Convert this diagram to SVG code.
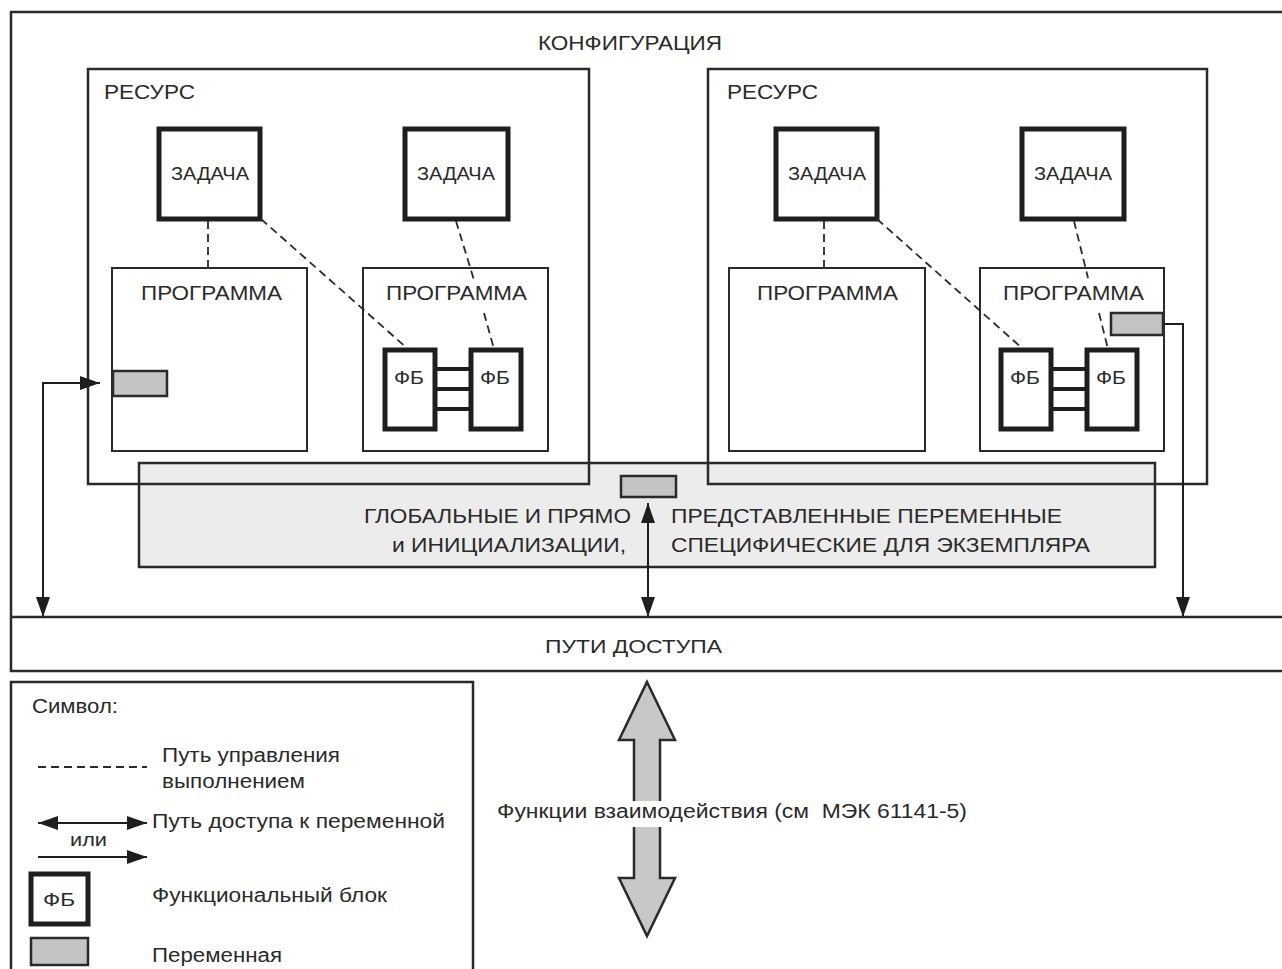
<svg xmlns="http://www.w3.org/2000/svg" width="1282" height="969" viewBox="0 0 1282 969">
  <style>
    text { font-family: "Liberation Sans", Arial, sans-serif; fill: #2a2a2a; }
    .frame { fill: none; stroke: #2a2a2a; stroke-width: 2.5; }
    .prog { fill: #fff; stroke: #2a2a2a; stroke-width: 2; }
    .thick { fill: #fff; stroke: #1e1e1e; stroke-width: 5; }
    .var { fill: #c4c4c4; stroke: #2a2a2a; stroke-width: 2.5; }
    .band { fill: #ececec; stroke: #2a2a2a; stroke-width: 2.5; }
    .dash { fill: none; stroke: #2a2a2a; stroke-width: 1.8; stroke-dasharray: 8 5; }
    .link { fill: none; stroke: #1e1e1e; stroke-width: 2; }
    .bus { fill: none; stroke: #1e1e1e; stroke-width: 4; }
    .big { font-size: 21px; }
    .mid { font-size: 19px; }
    .leg { font-size: 20px; }
  </style>
  <defs>
    <marker id="head" markerUnits="userSpaceOnUse" markerWidth="20" markerHeight="14" refX="20" refY="7" orient="auto-start-reverse">
      <path d="M0,0 L20,7 L0,14 z" fill="#1e1e1e"/>
    </marker>
    <marker id="headSmall" markerUnits="userSpaceOnUse" markerWidth="20" markerHeight="14" refX="20" refY="7" orient="auto-start-reverse">
      <path d="M0,0 L20,7 L0,14 z" fill="#1e1e1e"/>
    </marker>
  </defs>

  <rect width="1282" height="969" fill="#fff"/>

  <!-- configuration frame with access-path strip -->
  <g id="configuration">
    <rect class="frame" x="11" y="12" width="1290" height="659"/>
    <text class="big" x="538" y="50" textLength="184" lengthAdjust="spacingAndGlyphs">КОНФИГУРАЦИЯ</text>
  </g>
  <g id="access-paths">
    <line class="frame" x1="11" y1="617" x2="1290" y2="617"/>
    <text class="mid" x="545" y="653" textLength="177" lengthAdjust="spacingAndGlyphs">ПУТИ ДОСТУПА</text>
  </g>

  <!-- global variables band (behind the resource frames) -->
  <g id="global-vars">
    <rect class="band" x="139" y="463" width="1016" height="104"/>
    <text class="big" x="364" y="523" textLength="267" lengthAdjust="spacingAndGlyphs">ГЛОБАЛЬНЫЕ И ПРЯМО</text>
    <text class="big" x="392" y="552" textLength="234" lengthAdjust="spacingAndGlyphs">и ИНИЦИАЛИЗАЦИИ,</text>
    <text class="big" x="671" y="523" textLength="391" lengthAdjust="spacingAndGlyphs">ПРЕДСТАВЛЕННЫЕ ПЕРЕМЕННЫЕ</text>
    <text class="big" x="671" y="552" textLength="419" lengthAdjust="spacingAndGlyphs">СПЕЦИФИЧЕСКИЕ ДЛЯ ЭКЗЕМПЛЯРА</text>
  </g>

  <!-- resource 1 -->
  <g id="resource-1">
    <rect class="frame" x="88" y="69" width="501" height="415"/>
    <text class="big" x="104" y="99" textLength="91" lengthAdjust="spacingAndGlyphs">РЕСУРС</text>
  </g>
  <g id="task-1a">
    <rect class="thick" x="159" y="129" width="101" height="90"/>
    <text class="mid" x="171" y="180" textLength="78" lengthAdjust="spacingAndGlyphs">ЗАДАЧА</text>
  </g>
  <g id="task-1b">
    <rect class="thick" x="405" y="129" width="103" height="90"/>
    <text class="mid" x="417" y="180" textLength="78" lengthAdjust="spacingAndGlyphs">ЗАДАЧА</text>
  </g>
  <g id="program-1a">
    <rect class="prog" x="112" y="268" width="195" height="183"/>
    <text class="big" x="141" y="300" textLength="141" lengthAdjust="spacingAndGlyphs">ПРОГРАММА</text>
  </g>
  <g id="program-1b">
    <rect class="prog" x="363" y="268" width="185" height="183"/>
    <text class="big" x="386" y="300" textLength="141" lengthAdjust="spacingAndGlyphs">ПРОГРАММА</text>
  </g>
  <g id="fb-1a">
    <rect class="thick" x="385" y="350" width="50" height="79"/>
    <text class="mid" x="394" y="384" textLength="30" lengthAdjust="spacingAndGlyphs">ФБ</text>
  </g>
  <g id="fb-1b">
    <rect class="thick" x="471" y="350" width="50" height="79"/>
    <text class="mid" x="480" y="384" textLength="30" lengthAdjust="spacingAndGlyphs">ФБ</text>
  </g>
  <g id="var-1">
    <rect class="var" x="113" y="371" width="54" height="25"/>
  </g>

  <!-- resource 2 -->
  <g id="resource-2">
    <rect class="frame" x="708" y="69" width="499" height="415"/>
    <text class="big" x="727" y="99" textLength="91" lengthAdjust="spacingAndGlyphs">РЕСУРС</text>
  </g>
  <g id="task-2a">
    <rect class="thick" x="776" y="129" width="101" height="90"/>
    <text class="mid" x="788" y="180" textLength="78" lengthAdjust="spacingAndGlyphs">ЗАДАЧА</text>
  </g>
  <g id="task-2b">
    <rect class="thick" x="1022" y="129" width="102" height="90"/>
    <text class="mid" x="1034" y="180" textLength="78" lengthAdjust="spacingAndGlyphs">ЗАДАЧА</text>
  </g>
  <g id="program-2a">
    <rect class="prog" x="729" y="268" width="196" height="183"/>
    <text class="big" x="757" y="300" textLength="141" lengthAdjust="spacingAndGlyphs">ПРОГРАММА</text>
  </g>
  <g id="program-2b">
    <rect class="prog" x="980" y="268" width="184" height="183"/>
    <text class="big" x="1003" y="300" textLength="141" lengthAdjust="spacingAndGlyphs">ПРОГРАММА</text>
  </g>
  <g id="fb-2a">
    <rect class="thick" x="1001" y="350" width="50" height="79"/>
    <text class="mid" x="1010" y="384" textLength="30" lengthAdjust="spacingAndGlyphs">ФБ</text>
  </g>
  <g id="fb-2b">
    <rect class="thick" x="1087" y="350" width="50" height="79"/>
    <text class="mid" x="1096" y="384" textLength="30" lengthAdjust="spacingAndGlyphs">ФБ</text>
  </g>

  <g id="var-global">
    <rect class="var" x="621" y="476" width="55" height="21"/>
  </g>

  <!-- connectors -->
  <g id="connectors">
    <!-- execution control paths -->
    <line class="dash" x1="208" y1="221" x2="208" y2="268"/>
    <line class="dash" x1="261" y1="219" x2="408" y2="349"/>
    <line class="dash" x1="456" y1="221" x2="474" y2="280"/>
    <line class="dash" x1="484" y1="313" x2="494" y2="349"/>
    <line class="dash" x1="824" y1="221" x2="824" y2="268"/>
    <line class="dash" x1="877" y1="219" x2="1023" y2="349"/>
    <line class="dash" x1="1074" y1="221" x2="1088" y2="278"/>
    <line class="dash" x1="1099" y1="313" x2="1108" y2="349"/>
    <!-- FB to FB links -->
    <g class="bus">
      <line x1="435" y1="369" x2="471" y2="369"/>
      <line x1="435" y1="389" x2="471" y2="389"/>
      <line x1="435" y1="409" x2="471" y2="409"/>
      <line x1="1051" y1="369" x2="1087" y2="369"/>
      <line x1="1051" y1="389" x2="1087" y2="389"/>
      <line x1="1051" y1="409" x2="1087" y2="409"/>
    </g>
    <!-- variable access paths -->
    <path class="link" d="M100,383 H43 V617" marker-start="url(#head)" marker-end="url(#head)"/>
    <path class="link" d="M648,503 V617" marker-start="url(#head)" marker-end="url(#head)"/>
    <path class="link" d="M1163,324 H1183 V617" marker-end="url(#head)"/>
  </g>

  <!-- variable in program 2b drawn above the control path -->
  <g id="var-2">
    <rect class="var" x="1111" y="313" width="52" height="22"/>
  </g>

  <!-- communication functions -->
  <g id="comm-functions">
    <path d="M647,682 L675,740 L660,740 L660,878 L675,878 L647,936 L619,878 L634,878 L634,740 L619,740 z" fill="#c8c8c8" stroke="#2a2a2a" stroke-width="2.5" stroke-linejoin="miter"/>
    <rect x="628" y="801" width="38" height="26" fill="#fff"/>
    <text class="leg" x="497" y="818" textLength="470" lengthAdjust="spacingAndGlyphs" xml:space="preserve">Функции взаимодействия (см  МЭК 61141-5)</text>
  </g>

  <!-- legend -->
  <g id="legend">
    <rect class="frame" x="11" y="682" width="462" height="300"/>
    <text class="leg" x="32" y="713" textLength="86" lengthAdjust="spacingAndGlyphs">Символ:</text>
    <line class="dash" x1="38" y1="767" x2="147" y2="767"/>
    <text class="leg" x="162" y="762" textLength="178" lengthAdjust="spacingAndGlyphs">Путь управления</text>
    <text class="leg" x="162" y="788" textLength="143" lengthAdjust="spacingAndGlyphs">выполнением</text>
    <line class="link" x1="38" y1="823" x2="147" y2="823" marker-start="url(#headSmall)" marker-end="url(#headSmall)" stroke-width="3"/>
    <text class="leg" x="152" y="828" textLength="293" lengthAdjust="spacingAndGlyphs">Путь доступа к переменной</text>
    <text class="mid" x="70" y="846" textLength="37" lengthAdjust="spacingAndGlyphs">или</text>
    <line class="link" x1="38" y1="857" x2="147" y2="857" marker-end="url(#headSmall)" stroke-width="3"/>
    <rect class="thick" x="31" y="874" width="57" height="50"/>
    <text class="mid" x="43" y="906" textLength="32" lengthAdjust="spacingAndGlyphs">ФБ</text>
    <text class="leg" x="152" y="902" textLength="235" lengthAdjust="spacingAndGlyphs">Функциональный блок</text>
    <rect class="var" x="31" y="938" width="57" height="27"/>
    <text class="leg" x="152" y="962" textLength="130" lengthAdjust="spacingAndGlyphs">Переменная</text>
  </g>
</svg>
